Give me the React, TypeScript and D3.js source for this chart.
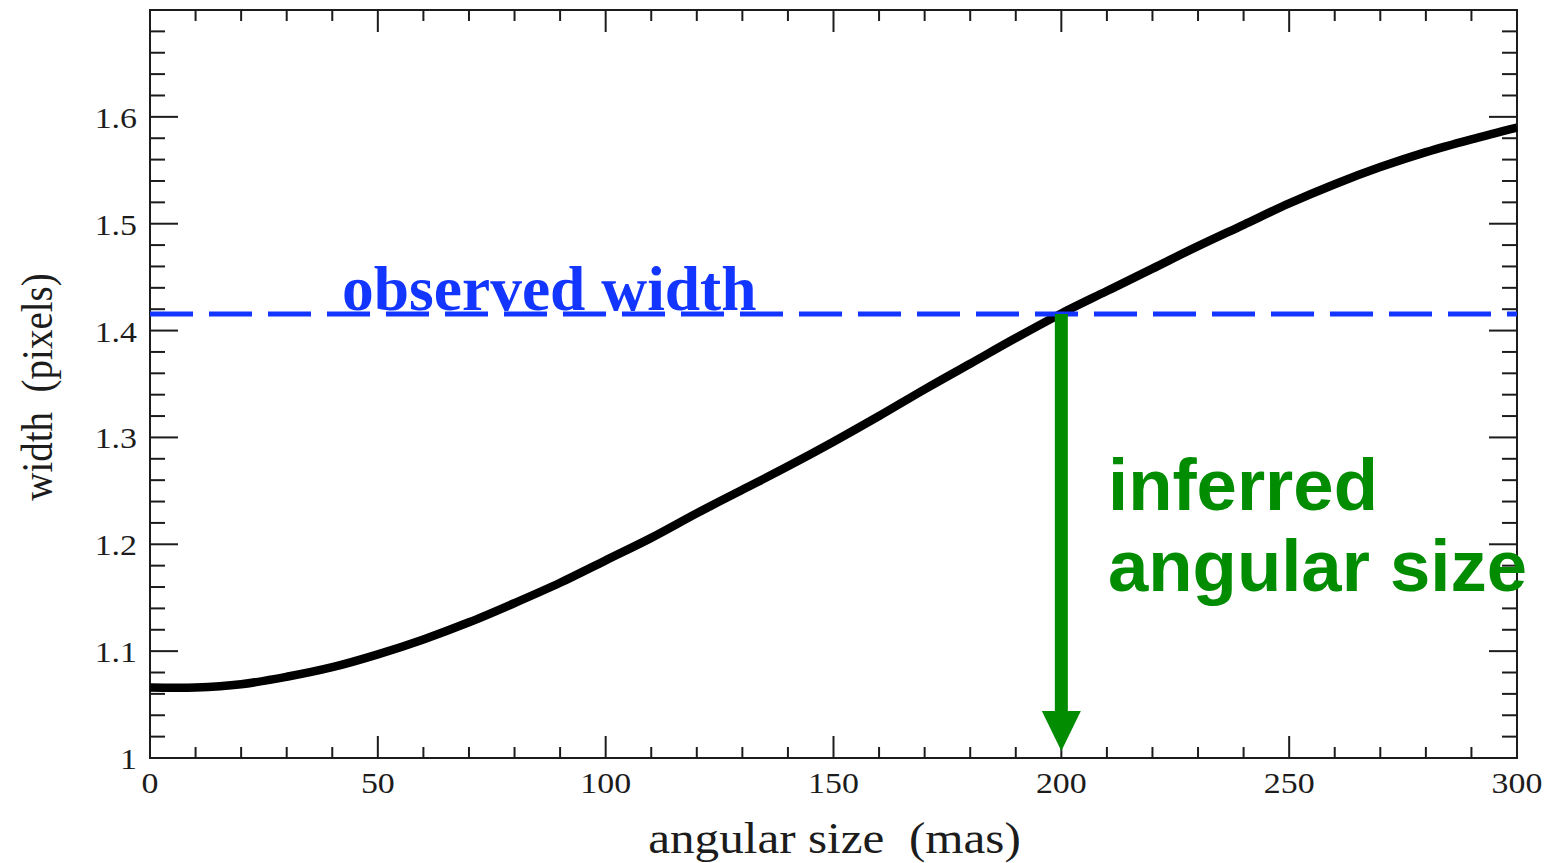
import React from "react";
import * as d3 from "d3";

const angularSize = [0, 10, 20, 30, 40, 50, 60, 70, 80, 90, 100, 110, 120, 130, 140, 150, 160, 170, 180, 190, 200, 210, 220, 230, 240, 250, 260, 270, 280, 290, 300];
const widthPx = [1.066, 1.066, 1.069, 1.076, 1.085, 1.097, 1.111, 1.127, 1.145, 1.164, 1.185, 1.206, 1.229, 1.251, 1.273, 1.296, 1.320, 1.345, 1.369, 1.393, 1.416, 1.437, 1.458, 1.479, 1.499, 1.519, 1.537, 1.553, 1.567, 1.579, 1.590];

const xMajorTicks = [0, 50, 100, 150, 200, 250, 300];
const yMajorTicks = [1, 1.1, 1.2, 1.3, 1.4, 1.5, 1.6];
const yTickLabels = ["1", "1.1", "1.2", "1.3", "1.4", "1.5", "1.6"];
const observedWidth = 1.4155;
const inferredSize = 200;

const W = 1551, H = 863;
const L = 150, R = 1517, T = 10, B = 758;

export default function App() {
  const x = d3.scaleLinear().domain([0, 300]).range([L, R]);
  const y = d3.scaleLinear().domain([1, 1.7]).range([B, T]);

  const xMinor = d3.range(0, 301, 10).filter((v) => v % 50 !== 0);
  const yMinor = d3.range(0, 36).map((i) => +(1 + i * 0.02).toFixed(2)).filter((v) => Math.round(v * 100) % 10 !== 0 && v < 1.7);

  const line = d3
    .line<number>()
    .x((_, i) => x(angularSize[i]))
    .y((d) => y(d))
    .curve(d3.curveCatmullRom.alpha(0.5));

  const axisColor = "#1c1c1c";
  const serif = "'Liberation Serif', 'DejaVu Serif', serif";
  const blue = "#1236ff";
  const green = "#028c02";

  const yObs = y(observedWidth);
  const xInf = x(inferredSize);
  const headTop = 711;
  const headTip = 751;

  return (
    <svg width={W} height={H} style={{ position: "absolute", left: 0, top: 0, background: "#fff" }}>
      <rect x={0} y={0} width={W} height={H} fill="#fff" />
      {/* frame */}
      <rect x={L} y={T} width={R - L} height={B - T} fill="none" stroke={axisColor} strokeWidth={2} />
      {/* x ticks */}
      {xMajorTicks.map((v) => (
        <g key={"xm" + v}>
          <line x1={x(v)} x2={x(v)} y1={B} y2={B - 22} stroke={axisColor} strokeWidth={2} />
          <line x1={x(v)} x2={x(v)} y1={T} y2={T + 22} stroke={axisColor} strokeWidth={2} />
          <text
            transform={`translate(${x(v)},793) scale(1.13,1)`}
            textAnchor="middle"
            fontFamily={serif}
            fontSize={30}
            fill={axisColor}
          >
            {v}
          </text>
        </g>
      ))}
      {xMinor.map((v) => (
        <g key={"xn" + v}>
          <line x1={x(v)} x2={x(v)} y1={B} y2={B - 11} stroke={axisColor} strokeWidth={2} />
          <line x1={x(v)} x2={x(v)} y1={T} y2={T + 11} stroke={axisColor} strokeWidth={2} />
        </g>
      ))}
      {/* y ticks */}
      {yMajorTicks.map((v, i) => (
        <g key={"ym" + v}>
          <line x1={L} x2={L + 28} y1={y(v)} y2={y(v)} stroke={axisColor} strokeWidth={2} />
          <line x1={R} x2={R - 28} y1={y(v)} y2={y(v)} stroke={axisColor} strokeWidth={2} />
          <text
            transform={`translate(137,${y(v) + 11}) scale(1.13,1)`}
            textAnchor="end"
            fontFamily={serif}
            fontSize={30}
            fill={axisColor}
          >
            {yTickLabels[i]}
          </text>
        </g>
      ))}
      {yMinor.map((v) => (
        <g key={"yn" + v}>
          <line x1={L} x2={L + 15} y1={y(v)} y2={y(v)} stroke={axisColor} strokeWidth={2} />
          <line x1={R} x2={R - 15} y1={y(v)} y2={y(v)} stroke={axisColor} strokeWidth={2} />
        </g>
      ))}
      {/* axis titles */}
      <text
        transform={`translate(${(L + R) / 2 + 1},853) scale(1.13,1)`}
        textAnchor="middle"
        fontFamily={serif}
        fontSize={43.5}
        fill={axisColor}
        style={{ whiteSpace: "pre" }}
      >
        {"angular size  (mas)"}
      </text>
      <text
        transform={`translate(52,${(T + B) / 2 + 3}) scale(1.13,1) rotate(-90)`}
        textAnchor="middle"
        fontFamily={serif}
        fontSize={39}
        fill={axisColor}
        style={{ whiteSpace: "pre" }}
      >
        {"width  (pixels)"}
      </text>
      {/* curve */}
      <path d={line(widthPx) || ""} fill="none" stroke="#000" strokeWidth={8.5} strokeLinejoin="round" />
      {/* observed width dashed line */}
      <line x1={L} x2={R} y1={yObs} y2={yObs} stroke={blue} strokeWidth={5} strokeDasharray="43 16" />
      <text x={342} y={310} fontFamily={serif} fontWeight="bold" fontSize={63.5} fill={blue}>
        observed width
      </text>
      {/* inferred arrow */}
      <line x1={xInf} x2={xInf} y1={yObs} y2={headTop + 1} stroke={green} strokeWidth={13} />
      <path d={`M${xInf - 19.5},${headTop} L${xInf + 19.5},${headTop} L${xInf},${headTip} Z`} fill={green} />
      <text x={1108} y={510} fontFamily="'Liberation Sans', Arial, sans-serif" fontWeight="bold" fontSize={72.5} fill={green}>
        inferred
      </text>
      <text x={1108} y={591} fontFamily="'Liberation Sans', Arial, sans-serif" fontWeight="bold" fontSize={72.5} fill={green}>
        angular size
      </text>
    </svg>
  );
}
